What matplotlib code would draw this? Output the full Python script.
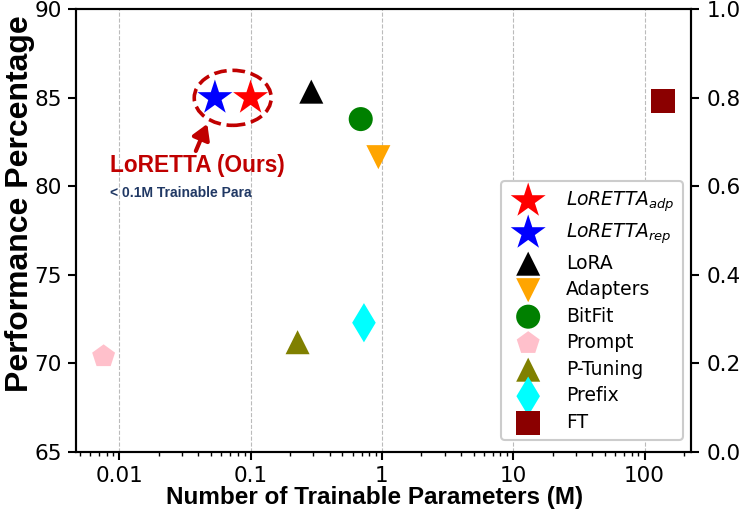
import numpy as np
import matplotlib
matplotlib.use('Agg')
import matplotlib.pyplot as plt
from matplotlib.patches import Ellipse
from matplotlib.transforms import ScaledTranslation

matplotlib.rcParams['font.family'] = 'DejaVu Sans'

# data
labels = [r'$LoRETTA_{adp}$', r'$LoRETTA_{rep}$', 'LoRA', 'Adapters', 'BitFit',
          'Prompt', 'P-Tuning', 'Prefix', 'FT']
params = [0.1, 0.0535, 0.29, 0.94, 0.69, 0.0076, 0.228, 0.73, 138]
perf = [85.0, 85.0, 85.35, 81.65, 83.8, 70.4, 71.2, 72.3, 84.8]
markers = ['*', '*', '^', 'v', 'o', 'p', '^', 'd', 's']
colors = ['red', 'blue', 'black', 'orange', 'green', 'pink', 'olive', 'cyan', 'darkred']
sizes = [700, 700, 300, 300, 300, 300, 300, 400, 300]

xticks = [0.01, 0.1, 1, 10, 100]
xticklabels = ['0.01', '0.1', '1', '10', '100']

fig = plt.figure(figsize=(7.47, 5.09), dpi=100)
ax = fig.add_axes([0.1017, 0.112, 0.823, 0.8697])

for x, y, m, c, s, lab in zip(params, perf, markers, colors, sizes, labels):
    ax.scatter(x, y, marker=m, c=c, s=s, label=lab, zorder=3, edgecolors='none')

ax.set_xscale('log')
ax.set_xlim(0.00468, 225)
ax.set_ylim(65, 90)
ax.set_xticks(xticks)
ax.set_xticklabels(xticklabels)
ax.set_yticks([65, 70, 75, 80, 85, 90])
ax.grid(axis='x', which='major', linestyle='--', color='#bbbbbb', lw=0.8)
ax.tick_params(labelsize=15.5, width=1.5, length=5.5, pad=4.5)
ax.tick_params(which='minor', width=1, length=3)
for sp in ax.spines.values():
    sp.set_linewidth(1.5)

ax.set_xlabel('Number of Trainable Parameters (M)', family='Liberation Sans',
              fontweight='bold', fontsize=17.5, labelpad=0, x=0.486)
ax.set_ylabel('Performance Percentage', family='Liberation Sans',
              fontweight='bold', fontsize=23, labelpad=0, y=0.56)

# dashed ellipse around our two stars
cx = np.sqrt(params[0] * params[1])
trans = fig.dpi_scale_trans + ScaledTranslation(cx, perf[0], ax.transData)
ax.add_patch(Ellipse((0, 0), 0.77, 0.55, transform=trans, fill=False,
                     edgecolor='#c00000', lw=2.6, linestyle=(0, (3.5, 1.6)), zorder=4))

ax.annotate('', xy=(0.0468, 83.53), xytext=(0.0383, 82.0),
            arrowprops=dict(arrowstyle='-|>,head_length=0.5,head_width=0.3',
                            color='#c00000', lw=3, mutation_scale=18, shrinkA=0, shrinkB=0))
ax.text(0.0085, 81.2, 'LoRETTA (Ours)', color='#c00000', fontsize=16.3,
        family='Liberation Sans', fontweight='bold', va='center', ha='left')
ax.text(0.0085, 79.6, '< 0.1M Trainable Para', color='#203864', fontsize=10,
        family='Liberation Sans', fontweight='bold', va='center', ha='left')

leg = ax.legend(loc='lower right', fontsize=13.5, labelspacing=0.4,
                handletextpad=1.0, borderpad=0.45, framealpha=1,
                bbox_to_anchor=(0.987, 0.027), borderaxespad=0)
leg.get_frame().set_linewidth(1.5)

ax2 = ax.twinx()
ax2.set_ylim(0, 1)
ax2.set_yticks([0.0, 0.2, 0.4, 0.6, 0.8, 1.0])
ax2.tick_params(labelsize=15.5, width=1.5, length=5.5, pad=6)
for sp in ax2.spines.values():
    sp.set_linewidth(1.5)

fig.savefig('out.png', dpi=100)
